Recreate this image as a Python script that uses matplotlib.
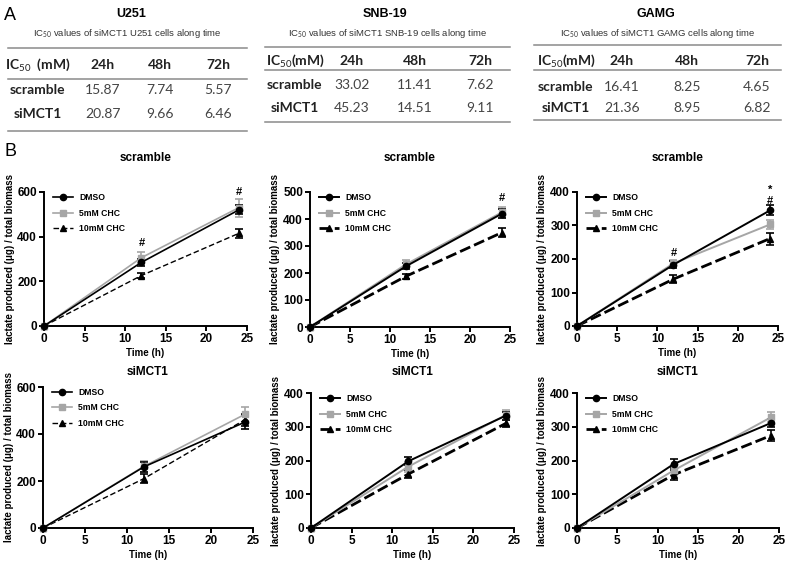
import matplotlib.pyplot as plt
from matplotlib.lines import Line2D

plt.rcParams['mathtext.fontset'] = 'custom'
plt.rcParams['mathtext.rm'] = 'Lato'
plt.rcParams['mathtext.bf'] = 'Lato:bold'

W, H = 786, 561

# --- table data (panel A) ---
cell_lines = ['U251', 'SNB-19', 'GAMG']
time_cols = ['24h', '48h', '72h']
row_names = ['scramble', 'siMCT1']
ic50_u251 = [['15.87', '7.74', '5.57'], ['20.87', '9.66', '6.46']]
ic50_snb19 = [['33.02', '11.41', '7.62'], ['45.23', '14.51', '9.11']]
ic50_gamg = [['16.41', '8.25', '4.65'], ['21.36', '8.95', '6.82']]

# --- lactate data (panel B) ---
time_h = [0, 12, 24]
conds = ['DMSO', '5mM CHC', '10mM CHC']
# U251
u251_scr = [[0, 285, 520], [0, 306, 530], [0, 226, 415]]
u251_scr_err = [[0, 15, 20], [0, 25, 40], [0, 12, 20]]
u251_si = [[0, 260, 450], [0, 262, 483], [0, 210, 460]]
u251_si_err = [[0, 20, 30], [0, 25, 30], [0, 20, 25]]
# SNB-19
snb_scr = [[0, 225, 420], [0, 232, 425], [0, 188, 350]]
snb_scr_err = [[0, 12, 18], [0, 15, 20], [0, 10, 15]]
snb_si = [[0, 198, 333], [0, 182, 335], [0, 160, 310]]
snb_si_err = [[0, 12, 12], [0, 15, 14], [0, 12, 10]]
# GAMG
gamg_scr = [[0, 183, 345], [0, 187, 303], [0, 140, 261]]
gamg_scr_err = [[0, 10, 15], [0, 10, 12], [0, 12, 18]]
gamg_si = [[0, 190, 311], [0, 171, 328], [0, 158, 274]]
gamg_si_err = [[0, 13, 12], [0, 15, 15], [0, 15, 15]]

fig = plt.figure(figsize=(W / 100, H / 100), dpi=100)


def fx(x):
    return x / W


def fy(y):
    return 1 - y / H


def hline(y, x0, x1):
    fig.add_artist(Line2D([fx(x0), fx(x1)], [fy(y), fy(y)], color='#8a8a8a', lw=1.1))


fig.text(fx(4), fy(20), 'A', fontsize=13, family='Liberation Sans')
fig.text(fx(4), fy(156), 'B', fontsize=13, family='Liberation Sans')

tables = [ic50_u251, ic50_snb19, ic50_gamg]
# layout per table: title x, line x0/x1, line ys, text ys, column xs
layouts = [
    dict(tx=131, x0=8, x1=247, lines=(48, 79, 131), ty=(65, 90, 114), cols=(38, 103, 160, 218),
         head='IC$_{50}$  (mM)'),
    dict(tx=385, x0=265, x1=510, lines=(47, 70, 122), ty=(61, 85, 108), cols=(295, 352, 415, 480),
         head='IC$_{50}$(mM)'),
    dict(tx=656, x0=534, x1=781, lines=(45, 70, 120), ty=(61, 87, 108), cols=(566, 622, 687, 757),
         head='IC$_{50}$(mM)'),
]
for name, tab, L in zip(cell_lines, tables, layouts):
    fig.text(fx(L['tx']), fy(14), name, ha='center', va='center', fontsize=9,
             fontweight='bold', family='Liberation Sans')
    fig.text(fx((L['x0'] + L['x1']) / 2), fy(34),
             'IC$_{50}$ values of siMCT1 %s cells along time' % name,
             ha='center', va='center', fontsize=6.8, color='#333333', family='Liberation Sans')
    for ly in L['lines']:
        hline(ly, L['x0'], L['x1'])
    fig.text(fx(L['cols'][0]), fy(L['ty'][0]), L['head'], ha='center', va='center',
             fontsize=10, fontweight='bold', family='Lato', color='#222222')
    for c, t in zip(L['cols'][1:], time_cols):
        fig.text(fx(c), fy(L['ty'][0]), t, ha='center', va='center', fontsize=10,
                 fontweight='bold', family='Lato', color='#222222')
    for r, (rn, vals) in enumerate(zip(row_names, tab)):
        yy = fy(L['ty'][r + 1])
        fig.text(fx(L['cols'][0]), yy, rn, ha='center', va='center', fontsize=10,
                 fontweight='bold', family='Lato', color='#222222')
        for c, v in zip(L['cols'][1:], vals):
            fig.text(fx(c), yy, v, ha='center', va='center', fontsize=10,
                     family='Lato', color='#444444')

# axes positions in pixels: (left, right, top, bottom)
boxes = [
    (44, 247, 192, 326), (310, 510, 192, 327), (577, 778, 192, 326),
    (43, 253, 387, 528), (311, 514, 393, 528), (577, 779, 393, 528),
]
title_y = [158, 158, 158, 372, 372, 372]
panel_data = [
    (u251_scr, u251_scr_err, 600, 200, 'scramble', True),
    (snb_scr, snb_scr_err, 500, 100, 'scramble', False),
    (gamg_scr, gamg_scr_err, 400, 100, 'scramble', False),
    (u251_si, u251_si_err, 600, 200, 'siMCT1', True),
    (snb_si, snb_si_err, 400, 100, 'siMCT1', False),
    (gamg_si, gamg_si_err, 400, 100, 'siMCT1', False),
]
# significance marks: (panel index, x, y, text)
marks = [
    (0, 12, 372, '#'), (0, 24, 602, '#'),
    (1, 24, 478, '#'),
    (2, 12, 218, '#'), (2, 24, 374, '#'), (2, 24, 407, '*'),
]

colors = ['black', '#a6a6a6', 'black']
mks = ['o', 's', '^']

axes = []
for (l, r, t, b), ty, (vals, errs, ymax, ystep, title, thin) in zip(boxes, title_y, panel_data):
    ax = fig.add_axes([fx(l), fy(b), (r - l) / W, (b - t) / H])
    axes.append(ax)
    dash_lw = 1.0 if thin else 2.0
    handles = []
    for i in range(3):
        ls = '--' if i == 2 else '-'
        lw = dash_lw if i == 2 else (1.2 if thin else 1.4)
        dashes = (4, 2) if thin else (4, 1.5)
        cont = ax.errorbar(time_h, vals[i], yerr=errs[i], color=colors[i], marker=mks[i],
                           markersize=5 if i == 1 else 4.5, lw=lw, ls=ls, capsize=3,
                           elinewidth=1.2, capthick=1.2, label=conds[i], clip_on=False,
                           zorder=3 - i * 0.1)
        if i == 2:
            cont[0].set_dashes(dashes)
        handles.append(cont[0])
    ax.set_xlim(0, 25)
    ax.set_ylim(0, ymax)
    ax.set_xticks([0, 5, 10, 15, 20, 25])
    ax.set_yticks(range(0, ymax + 1, ystep))
    for s in ['top', 'right']:
        ax.spines[s].set_visible(False)
    for s in ['left', 'bottom']:
        ax.spines[s].set_linewidth(1.4)
    ax.tick_params(width=1.4, length=3.5, labelsize=8.5, pad=1.5)
    for lab in ax.get_xticklabels() + ax.get_yticklabels():
        lab.set_fontweight('bold')
        lab.set_family('Liberation Sans')
    fig.text(fx((l + r) / 2), fy(ty), title, ha='center', va='center', fontsize=8.5,
             fontweight='bold', family='Liberation Sans')
    ax.set_xlabel('Time (h)', fontsize=7, fontweight='bold', family='Liberation Sans', labelpad=2)
    ax.set_ylabel('lactate produced (\u03bcg) / total biomass', fontsize=7,
                  fontweight='bold', family='Liberation Sans', labelpad=2)
    ax.legend(handles=handles, labels=conds, loc='upper left', frameon=False,
              handlelength=2.3, handletextpad=0.7,
              bbox_to_anchor=(0.02, 1.03), borderaxespad=0.2, labelspacing=0.75,
              prop={'weight': 'bold', 'size': 6.2, 'family': 'Liberation Sans'})

for k, x, y, txt in marks:
    axes[k].text(x, y, txt, ha='center', va='center', fontsize=8, fontweight='bold',
                 family='Liberation Sans', clip_on=False)

fig.savefig('out.png', dpi=100)
